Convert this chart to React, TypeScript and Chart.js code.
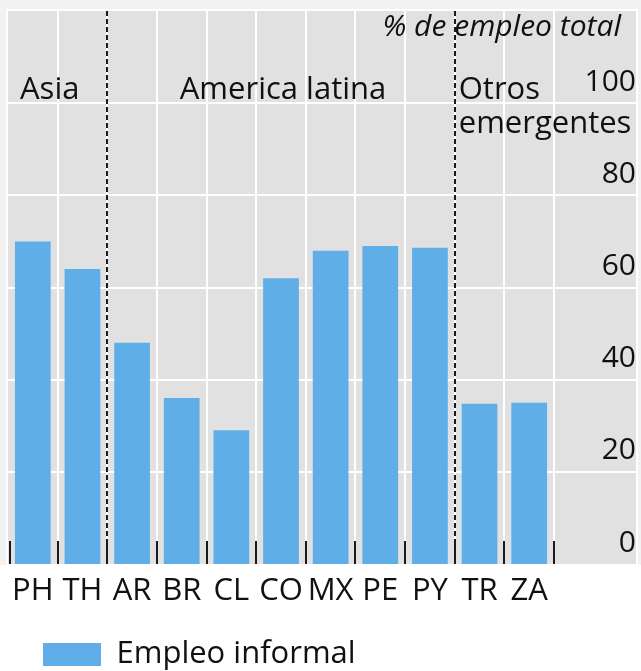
import React, { useEffect, useRef } from "react";
import { Chart, registerables } from "chart.js";

Chart.register(...registerables);

// ---- data ----
const categories = ["PH", "TH", "AR", "BR", "CL", "CO", "MX", "PE", "PY", "TR", "ZA"];
const informalEmployment = [70, 64, 48, 36, 29, 62, 68, 69, 68.6, 34.8, 35];
const seriesLabel = "Empleo informal";
const yTickValues = [0, 20, 40, 60, 80, 100];
const groupNames = [["Asia"], ["America latina"], ["Otros", "emergentes"]];
const groupStarts = [0, 2, 9];
const groupEnds = [1, 8, 10];
const unitLabel = "% de empleo total";

const FONT = "'Open Sans', 'Noto Sans', sans-serif";
const TEXT = "#111111";
const BAR = "rgb(95,174,232)";
const PLOT_BG = "#e1e1e1";

const decorPlugin = {
  id: "decor",
  beforeDraw(chart: any) {
    const { ctx, chartArea, scales } = chart;
    const x = scales.x;
    const y = scales.y;
    const right = y.right;
    ctx.save();
    // page backgrounds
    ctx.fillStyle = "#ffffff";
    ctx.fillRect(0, 0, chart.width, chart.height);
    ctx.fillStyle = "#f2f2f2";
    ctx.fillRect(0, 0, chart.width, chartArea.bottom + 1);
    // plot panel
    ctx.fillStyle = "#ffffff";
    ctx.fillRect(chartArea.left - 2, chartArea.top - 2, right - chartArea.left + 4, chartArea.bottom - chartArea.top + 4);
    ctx.fillStyle = PLOT_BG;
    ctx.fillRect(chartArea.left, chartArea.top, right - chartArea.left, chartArea.bottom - chartArea.top);
    // gridlines
    ctx.strokeStyle = "#ffffff";
    ctx.lineWidth = 2;
    yTickValues.forEach((v) => {
      const py = Math.round(y.getPixelForValue(v));
      if (v === 0) return;
      ctx.beginPath();
      ctx.moveTo(chartArea.left, py);
      ctx.lineTo(right, py);
      ctx.stroke();
    });
    const step = (x.right - x.left) / categories.length;
    for (let i = 1; i <= categories.length; i++) {
      const px = Math.round(x.left + i * step);
      ctx.beginPath();
      ctx.moveTo(px, chartArea.top);
      ctx.lineTo(px, chartArea.bottom);
      ctx.stroke();
    }
    ctx.restore();
  },
  afterDatasetsDraw(chart: any) {
    const { ctx, chartArea, scales } = chart;
    const x = scales.x;
    const y = scales.y;
    const step = (x.right - x.left) / categories.length;
    ctx.save();
    // tick marks at category boundaries
    ctx.strokeStyle = "#1a1a1a";
    ctx.lineWidth = 2;
    for (let i = 0; i <= categories.length; i++) {
      const px = Math.round(x.left + i * step) + (i === 0 ? 2 : 0);
      ctx.beginPath();
      ctx.moveTo(px, chartArea.bottom - 23);
      ctx.lineTo(px, chartArea.bottom);
      ctx.stroke();
    }
    // dashed separators between groups
    ctx.setLineDash([5, 3]);
    for (let g = 1; g < groupStarts.length; g++) {
      const px = Math.round(x.left + groupStarts[g] * step);
      ctx.beginPath();
      ctx.moveTo(px, chartArea.top);
      ctx.lineTo(px, chartArea.bottom);
      ctx.stroke();
    }
    ctx.setLineDash([]);
    // group labels
    ctx.fillStyle = TEXT;
    ctx.font = `31px ${FONT}`;
    ctx.textBaseline = "alphabetic";
    const baseY = y.getPixelForValue(100) - 4;
    groupNames.forEach((lines, g) => {
      const x0 = x.left + groupStarts[g] * step;
      const x1 = x.left + (groupEnds[g] + 1) * step;
      lines.forEach((line, li) => {
        const ly = baseY + li * 34;
        if (g === 1) {
          ctx.textAlign = "center";
          ctx.fillText(line, (x0 + x1) / 2 + 2, ly);
        } else {
          ctx.textAlign = "left";
          ctx.fillText(line, x0 + (g === 0 ? 12 : 4), ly);
        }
      });
    });
    // unit label
    ctx.font = `italic 30px ${FONT}`;
    ctx.textAlign = "right";
    ctx.fillText(unitLabel, y.right - 15, chartArea.top + 25);
    ctx.restore();
  },
};

export default function App() {
  const ref = useRef<HTMLCanvasElement | null>(null);
  useEffect(() => {
    document.body.style.margin = "0";
    const canvas = ref.current;
    if (!canvas) return;
    const chart = new Chart(canvas, {
      type: "bar",
      data: {
        labels: categories,
        datasets: [
          {
            label: seriesLabel,
            data: informalEmployment,
            backgroundColor: BAR,
            borderWidth: 0,
            categoryPercentage: 0.72,
            barPercentage: 1,
          },
        ],
      },
      options: {
        responsive: false,
        animation: false,
        layout: { padding: { left: 8, right: 5, top: 11, bottom: 0 } },
        scales: {
          x: {
            grid: { display: false, drawTicks: false },
            border: { display: false },
            ticks: {
              autoSkip: false,
              maxRotation: 0,
              minRotation: 0,
              padding: 9,
              color: TEXT,
              font: { family: FONT, size: 31 },
            },
            afterFit: (s: any) => {
              s.height = 40;
              s.paddingLeft = 0;
              s.paddingRight = 0;
            },
          },
          y: {
            position: "right",
            min: 0,
            max: 120,
            grid: { display: false, drawTicks: false },
            border: { display: false },
            ticks: {
              stepSize: 20,
              crossAlign: "far",
              padding: 24,
              labelOffset: -21,
              color: TEXT,
              font: { family: FONT, size: 30 },
              callback: (v: any) => (yTickValues.includes(Number(v)) ? String(v) : ""),
            },
            afterFit: (s: any) => {
              s.width = 82;
              s.paddingTop = 0;
              s.paddingBottom = 0;
            },
          },
        },
        plugins: {
          legend: {
            position: "bottom",
            align: "start",
            maxHeight: 67,
            labels: {
              boxWidth: 58,
              boxHeight: 23,
              padding: 35,
              color: TEXT,
              font: { family: FONT, size: 31 },
            },
          },
          tooltip: { enabled: false },
        },
      },
      plugins: [decorPlugin],
    });
    return () => chart.destroy();
  }, []);
  return (
    <div style={{ width: 641, height: 671 }}>
      <canvas ref={ref} width={641} height={671} style={{ display: "block" }} />
    </div>
  );
}
